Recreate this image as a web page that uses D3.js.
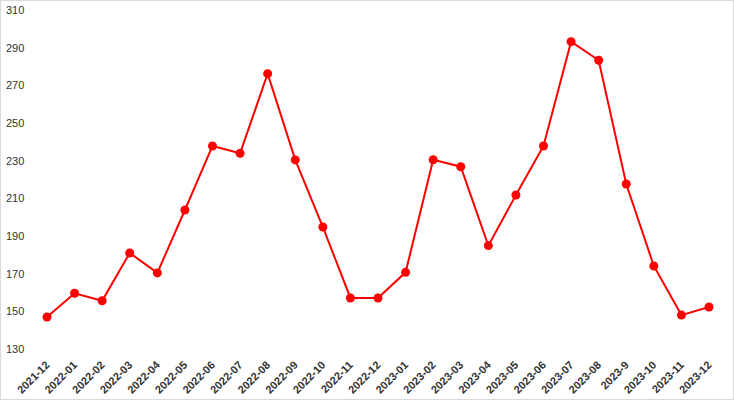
<!DOCTYPE html>
<html><head><meta charset="utf-8">
<script src="https://cdn.jsdelivr.net/npm/d3@7"></script>
<style>body{margin:0;background:#fff}svg{display:block}</style>
</head><body>
<script>
const categories = ["2021-12","2022-01","2022-02","2022-03","2022-04","2022-05","2022-06","2022-07","2022-08","2022-09","2022-10","2022-11","2022-12","2023-01","2023-02","2023-03","2023-04","2023-05","2023-06","2023-07","2023-08","2023-9","2023-10","2023-11","2023-12"];
const values = [147,159.6,155.6,181,170.4,203.8,237.8,233.9,276.2,230.4,194.8,157.1,157.1,170.7,230.5,226.8,184.9,211.8,237.8,293.2,283.3,217.6,174.1,148,152.3];
const yTicks = [130,150,170,190,210,230,250,270,290,310];

const W = 734, H = 400;
const svg = d3.select("body").append("svg").attr("width", W).attr("height", H);
svg.append("rect").attr("x",0.5).attr("y",0.5).attr("width",W-1).attr("height",H-1)
  .attr("fill","#fff").attr("stroke","#d9d9d9");

const x = d3.scalePoint().domain(categories).range([47, 709]);
const y = d3.scaleLinear().domain([130, 310]).range([349, 10]);

const fontFam = "Liberation Sans, Arial, sans-serif";

const yAxis = svg.append("g").attr("transform","translate(6,0)")
  .call(d3.axisRight(y).tickValues(yTicks).tickSize(0).tickPadding(0));
yAxis.select(".domain").remove();
yAxis.selectAll("text").attr("font-size",11).attr("font-family",fontFam).attr("fill","#333");

const xAxis = svg.append("g").attr("transform","translate(0,363)")
  .call(d3.axisBottom(x).tickSize(0).tickPadding(0));
xAxis.select(".domain").remove();
xAxis.selectAll("text").attr("font-size",11).attr("font-weight","bold").attr("font-family",fontFam).attr("fill","#333")
  .attr("text-anchor","end").attr("dy","0.35em").attr("y",0).attr("x",0)
  .attr("transform","rotate(-45)");

const line = d3.line().x((d,i)=>x(categories[i])).y(d=>y(d));
svg.append("path").datum(values).attr("d", line).attr("fill","none")
  .attr("stroke","#ff0000").attr("stroke-width",2);
svg.append("g").selectAll("circle").data(values).join("circle")
  .attr("cx",(d,i)=>x(categories[i])).attr("cy",d=>y(d)).attr("r",4.5).attr("fill","#ff0000");
</script>
</body></html>
